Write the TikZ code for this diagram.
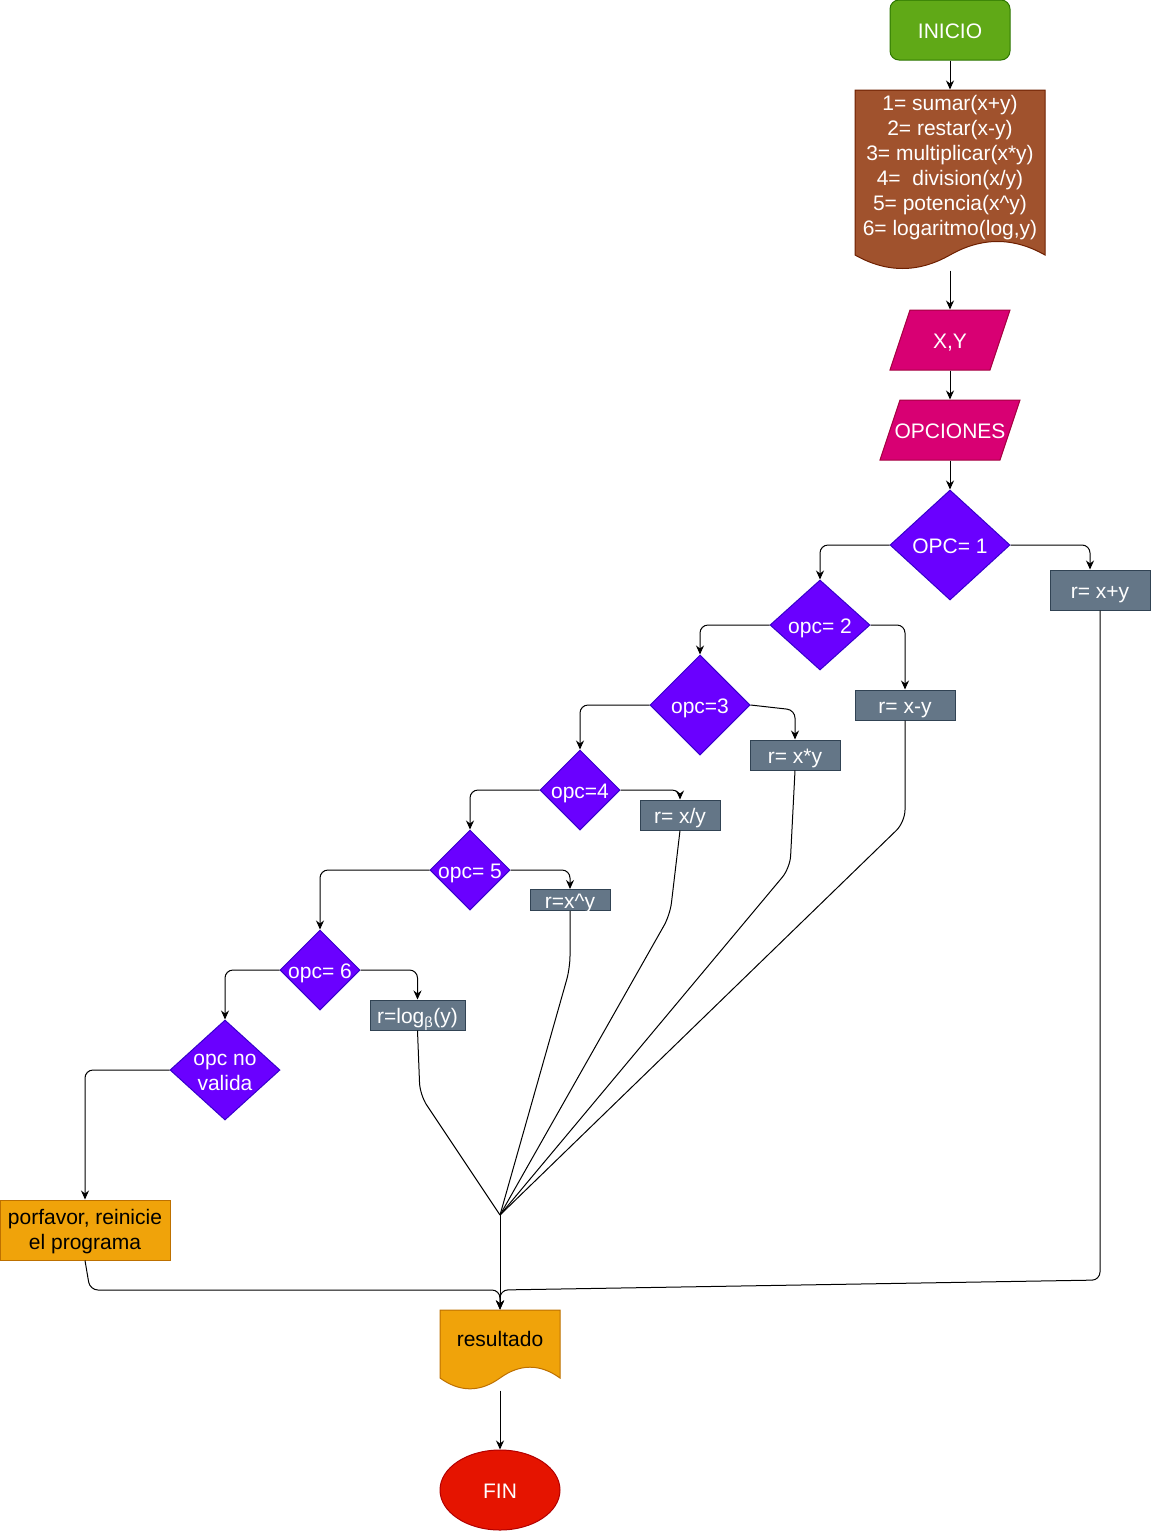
\documentclass[tikz,border=0pt]{standalone}
\usepackage{fontspec}
\setmainfont{Liberation Sans}
\usetikzlibrary{shapes.geometric,arrows.meta}
\definecolor{startfill}{HTML}{60A917}
\definecolor{startline}{HTML}{2D7600}
\definecolor{docfill}{HTML}{A0522D}
\definecolor{docline}{HTML}{6D1F00}
\definecolor{iofill}{HTML}{D80073}
\definecolor{ioline}{HTML}{A50040}
\definecolor{decfill}{HTML}{6A00FF}
\definecolor{decline}{HTML}{3700CC}
\definecolor{procfill}{HTML}{647687}
\definecolor{procline}{HTML}{314354}
\definecolor{notefill}{HTML}{F0A30A}
\definecolor{noteline}{HTML}{BD7000}
\definecolor{stopfill}{HTML}{E51400}
\definecolor{stopline}{HTML}{B20000}
\tikzstyle{oneline}=[text height=19pt,text depth=2pt]
\tikzstyle{start}=[rectangle,oneline,rounded corners=9pt,fill=startfill,draw=startline,text=white,minimum width=120pt,minimum height=60pt]
\tikzstyle{docnode}=[rectangle,inner sep=0pt]
\tikzstyle{io}=[rectangle,oneline,inner sep=0pt,text=white]
\tikzstyle{decision}=[diamond,fill=decfill,draw=decline,inner sep=0pt]
\tikzstyle{process}=[rectangle,oneline,fill=procfill,draw=procline,text=white,inner sep=0pt]
\tikzstyle{note}=[rectangle,fill=notefill,draw=noteline,inner sep=0pt,minimum width=170pt,minimum height=60pt]
\tikzstyle{stop}=[ellipse,oneline,fill=stopfill,draw=stopline,text=white,inner sep=0pt,minimum width=120pt,minimum height=80pt]
\tikzstyle{multi}=[text height=,text depth=,yshift=-2pt]
\tikzstyle{elbow}=[->,rounded corners=8pt]
\tikzstyle{fan}=[rounded corners=12pt]

\begin{document}
\begin{tikzpicture}[x=1pt,y=-1pt,line width=1pt,font=\fontsize{21}{25}\selectfont,
  >={Stealth[length=9pt,width=8pt]},
  every label/.style={text=white,align=center,inner sep=0pt,oneline}]
\useasboundingbox (0,0) rectangle (1151,1531);
% outlines of the document and input shapes
\draw[fill=docfill,draw=docline] (855,90) -- (1045,90) -- (1045,255) .. controls (1013.3,237) and (981.7,237) .. (950,255) .. controls (918.3,273) and (886.7,273) .. (855,255) -- cycle;
\draw[fill=iofill,draw=ioline] (910,310) -- (1010,310) -- (990,370) -- (890,370) -- cycle;
\draw[fill=iofill,draw=ioline] (900,400) -- (1020,400) -- (1000,460) -- (880,460) -- cycle;
\draw[fill=notefill,draw=noteline] (440,1310) -- (560,1310) -- (560,1378) .. controls (540,1363.6) and (520,1363.6) .. (500,1378) .. controls (480,1392.4) and (460,1392.4) .. (440,1378) -- cycle;

\node[start] at (950, 30) (start) {INICIO};
\node[docnode,minimum width=190pt,minimum height=180pt,label={[multi,yshift=14pt]center:{1= sumar(x+y)\\2= restar(x-y)\\3= multiplicar(x*y)\\4=\ \ division(x/y)\\5= potencia(x\textasciicircum y)\\6= logaritmo(log,y)}}] at (950, 180) (menu) {};
\node[io,minimum width=120pt,minimum height=60pt] at (950, 340) (xy) {X,Y};
\node[io,minimum width=140pt,minimum height=60pt] at (950, 430) (opciones) {OPCIONES};

\node[decision,minimum width=120pt,minimum height=110pt,label=center:{OPC= 1}] at (950, 545) (opc1) {};
\node[decision,minimum width=100pt,minimum height=90pt,label=center:{opc= 2}] at (820, 625) (opc2) {};
\node[decision,minimum width=100pt,minimum height=100pt,label=center:{opc=3}] at (700, 705) (opc3) {};
\node[decision,minimum width=80pt,minimum height=80pt,label=center:{opc=4}] at (580, 790) (opc4) {};
\node[decision,minimum width=80pt,minimum height=80pt,label=center:{opc= 5}] at (470, 870) (opc5) {};
\node[decision,minimum width=80pt,minimum height=80pt,label=center:{opc= 6}] at (320, 970) (opc6) {};
\node[decision,minimum width=110pt,minimum height=100pt,label={[multi]center:{opc no\\valida}}] at (225, 1070) (novalida) {};

\node[process,minimum width=100pt,minimum height=40pt] at (1100, 590) (xpy) {r= x+y};
\node[process,minimum width=100pt,minimum height=30pt] at (905, 705) (xmy) {r= x-y};
\node[process,minimum width=90pt,minimum height=30pt] at (795, 755) (xty) {r= x*y};
\node[process,minimum width=80pt,minimum height=30pt] at (680, 815) (xdy) {r= x/y};
\node[process,minimum width=80pt,minimum height=20pt] at (570, 900) (xey) {r=x\textasciicircum y};
\node[process,minimum width=95pt,minimum height=30pt] at (417.5, 1015) (lgy) {r=log\textsubscript{β}(y)};
\node[note,label={[multi,text=black]center:{porfavor, reinicie\\el programa}}] at (85, 1230) (retry) {};
\node[docnode,minimum width=120pt,minimum height=80pt,label={[text=black,yshift=12pt]center:resultado}] at (500, 1350) (res) {};
\node[stop] at (500, 1490) (fin) {FIN};
\coordinate (merge) at (500, 1215);

\draw[->] (start) edge (menu);
\draw[->] (menu) edge (xy);
\draw[->] (xy) edge (opciones);
\draw[->] (opciones) edge (opc1);
\draw[->] (res) edge (fin);

\draw[elbow] (opc1.west) -| (opc2.north);
\draw[elbow] (opc1.east) -| ([xshift=-10pt]xpy.north);
\draw[elbow] (opc2.west) -| (opc3.north);
\draw[elbow] (opc2.east) -| (xmy.north);
\draw[elbow] (opc3.west) -| (opc4.north);
\draw[elbow] (opc3.east) -- (795, 710) -- (xty.north);
\draw[elbow] (opc4.west) -| (opc5.north);
\draw[elbow] (opc4.east) -| (xdy.north);
\draw[elbow] (opc5.west) -| (opc6.north);
\draw[elbow] (opc5.east) -| (xey.north);
\draw[elbow] (opc6.west) -| (novalida.north);
\draw[elbow] (opc6.east) -| (lgy.north);
\draw[elbow] (novalida.west) -| (retry.north);

% results run together into the output
\draw[fan] (xmy.south) -- (905, 822) -- (merge);
\draw[fan] (xty.south) -- (790, 868) -- (merge);
\draw[fan] (xdy.south) -- (670, 915) -- (merge);
\draw[fan] (xey.south) -- (570, 968) -- (merge);
\draw[fan] (lgy.south) -- (420, 1095) -- (merge);
\draw[->] (merge) -- (res.north);
\draw[elbow] (retry.south) -- (90, 1290) -| (res.north);
\draw[elbow] (xpy.south) -- (1100, 1280) -- (500, 1290) -- (res.north);
\end{tikzpicture}
\end{document}
